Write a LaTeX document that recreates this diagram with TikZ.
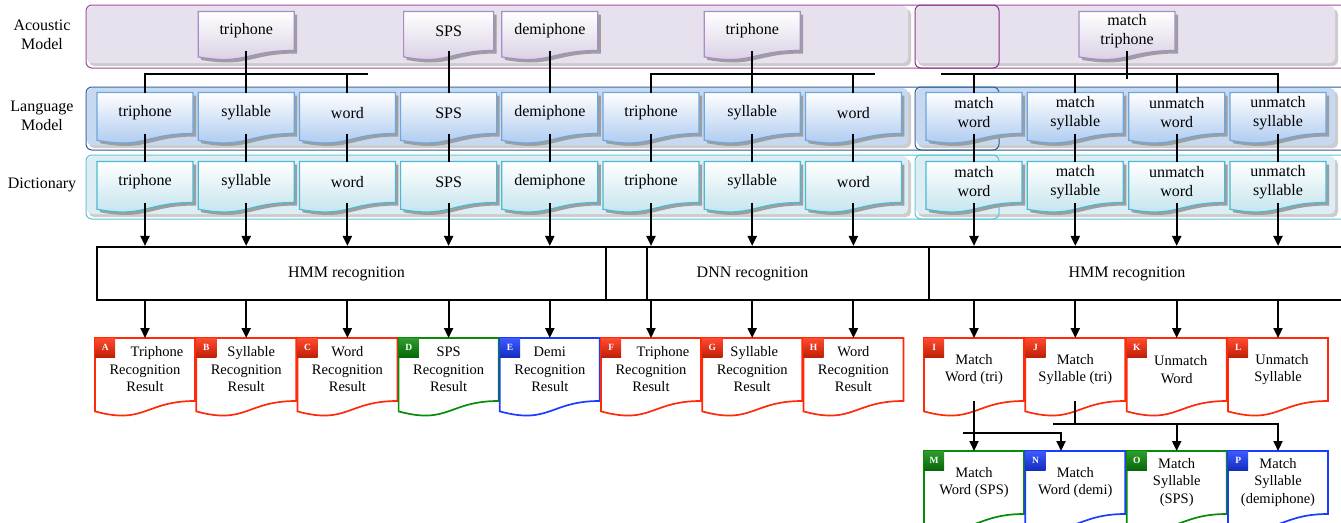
\documentclass[tikz,border=0pt]{standalone}
\usepackage{fontspec}
\setmainfont{Liberation Serif}
\usetikzlibrary{arrows.meta,calc}

\definecolor{acline}{HTML}{9E4A9E}
\definecolor{acdark}{HTML}{8A2E8A}
\definecolor{acfill}{HTML}{E6E1EC}
\definecolor{acdoc}{HTML}{A98BC9}
\definecolor{acshade}{HTML}{D6CCE2}
\definecolor{lmline}{HTML}{2E5E9C}
\definecolor{lmfill}{HTML}{C6D9F0}
\definecolor{lmdoc}{HTML}{6EA6DE}
\definecolor{lmshade}{HTML}{A6C6EE}
\definecolor{dcline}{HTML}{5CC2D8}
\definecolor{dcfill}{HTML}{DCEEF4}
\definecolor{dcdoc}{HTML}{4DB9D1}
\definecolor{dcshade}{HTML}{BFE2EC}
\definecolor{resred}{HTML}{FF2A0A}
\definecolor{resgreen}{HTML}{0A8A0A}
\definecolor{resblue}{HTML}{1A3CFF}

\pgfdeclarelayer{bands}
\pgfdeclarelayer{docs}
\pgfsetlayers{bands,docs,main}

\newcommand{\mfont}{\fontsize{16}{19}\selectfont}
\newcommand{\rfont}{\fontsize{14.5}{17.5}\selectfont}
% document outline below the text part of a node
\newcommand{\docpath}[1]{(#1.north west) -- (#1.north east) -- (#1.south east)
  .. controls (#1.south) and ($(#1.south)!-0.38!(#1.north)$) .. ($(#1.south west)!-0.165!(#1.north west)$) -- cycle}
\newcommand{\mdocbg}[3]{\begin{pgfonlayer}{docs}
  \fill[black!38, transform canvas={shift={(3pt,-3pt)}}] \docpath{#1};
  \shadedraw[top color=white, bottom color=#2, draw=#3, line width=1.2pt] \docpath{#1};
\end{pgfonlayer}}
\newcommand{\rdocbg}[2]{\begin{pgfonlayer}{docs}
  \filldraw[fill=white, draw=#2, line width=1.7pt] \docpath{#1};
\end{pgfonlayer}}

\begin{document}
\begin{tikzpicture}[x=1pt, y=-1pt, >={Triangle[length=10pt,width=9pt]},
            link/.style={line width=2.1pt},
            side/.style={font=\mfont, align=center},
            mdoc/.style={minimum width=96pt, minimum height=41pt, inner sep=0pt, outer sep=0pt, align=center, font=\mfont},
            rdoc/.style={minimum width=100pt, minimum height=63pt, inner sep=0pt, outer sep=0pt, align=center, font=\rfont},
            tag/.style={anchor=north west, minimum width=20pt, minimum height=19pt, inner sep=0pt,
                top color=#1!85!white, bottom color=#1!75!black, text=white, font=\fontsize{9.5}{9.5}\selectfont\bfseries},
            reco/.style={draw, line width=2.1pt, minimum height=53pt, inner sep=0pt, font=\mfont},
        ]
    \useasboundingbox (0,0) rectangle (1341,522);

    % the three model bands
    \begin{pgfonlayer}{bands}
    \foreach \t/\b/\ln/\fl/\dk in {5/68/acline/acfill/acdark, 87/150/lmline/lmfill/lmline, 155/219/dcline/dcfill/dcline} {
        \filldraw[draw=\ln, fill=white, line width=1pt, rounded corners=6pt] (86,\t) rectangle (1375,\b);
        \fill[black!20, rounded corners=5pt] (89,\t+4) rectangle (911,\b-2);
        \fill[\fl, rounded corners=5pt] (87,\t+1) rectangle (908,\b-5);
        \fill[black!20, rounded corners=5pt] (918,\t+4) rectangle (1338,\b-2);
        \fill[\fl, rounded corners=5pt] (916,\t+1) rectangle (1335,\b-5);
        \draw[\dk, line width=1pt, rounded corners=6pt] (915,\t) rectangle (999,\b);
    }
    \end{pgfonlayer}

    \node[side] (acm) at (42,35) {Acoustic\\Model};
    \node[side] (lnm) at (42,116) {Language\\Model};
    \node[side] (dct) at (42,185) {Dictionary};

    \node[mdoc, minimum height=39pt] (a1) at (246.2,31) {triphone};
    \node[mdoc, minimum height=39pt, minimum width=90pt] (a2) at (448.6,31) {SPS};
    \node[mdoc, minimum height=39pt] (a3) at (549.8,31) {demiphone};
    \node[mdoc, minimum height=39pt] (a4) at (752.2,31) {triphone};
    \node[mdoc, minimum height=39pt] (a5) at (1127,31) {match\\triphone};

    \node[mdoc] (l1) at (145,113) {triphone};
    \node[mdoc] (l2) at (246.2,113) {syllable};
    \node[mdoc] (l3) at (347.4,113) {word};
    \node[mdoc] (l4) at (448.6,113) {SPS};
    \node[mdoc] (l5) at (549.8,113) {demiphone};
    \node[mdoc] (l6) at (651,113) {triphone};
    \node[mdoc] (l7) at (752.2,113) {syllable};
    \node[mdoc] (l8) at (853.4,113) {word};
    \node[mdoc] (l9) at (974,113) {match\\word};
    \node[mdoc] (l10) at (1075.3,113) {match\\syllable};
    \node[mdoc] (l11) at (1176.7,113) {unmatch\\word};
    \node[mdoc] (l12) at (1278,113) {unmatch\\syllable};

    \node[mdoc] (d1) at (145,182) {triphone};
    \node[mdoc] (d2) at (246.2,182) {syllable};
    \node[mdoc] (d3) at (347.4,182) {word};
    \node[mdoc] (d4) at (448.6,182) {SPS};
    \node[mdoc] (d5) at (549.8,182) {demiphone};
    \node[mdoc] (d6) at (651,182) {triphone};
    \node[mdoc] (d7) at (752.2,182) {syllable};
    \node[mdoc] (d8) at (853.4,182) {word};
    \node[mdoc] (d9) at (974,182) {match\\word};
    \node[mdoc] (d10) at (1075.3,182) {match\\syllable};
    \node[mdoc] (d11) at (1176.7,182) {unmatch\\word};
    \node[mdoc] (d12) at (1278,182) {unmatch\\syllable};

    \foreach \n in {a1,a2,a3,a4,a5} {\mdocbg{\n}{acshade}{acdoc}}
    \foreach \i in {1,...,12} {\mdocbg{l\i}{lmshade}{lmdoc} \mdocbg{d\i}{dcshade}{dcdoc}}

    \node[reco, minimum width=509pt] (hmm1) at (351.5,273.5) {HMM recognition\hspace*{10pt}};
    \node[reco, minimum width=323pt] (dnn) at (767.5,273.5) {DNN recognition\hspace*{30pt}};
    \node[reco, minimum width=430pt] (hmm2) at (1144,273.5) {HMM recognition\hspace*{34pt}};
    \draw[link] ([xshift=42pt]dnn.north west) -- ([xshift=42pt]dnn.south west);

    \node[rdoc] (rA) at (145,369.5) {\hspace*{24pt}Triphone\\Recognition\\Result};
    \node[rdoc] (rB) at (246.2,369.5) {\hspace*{10pt}Syllable\\Recognition\\Result};
    \node[rdoc] (rC) at (347.4,369.5) {Word\\Recognition\\Result};
    \node[rdoc] (rD) at (448.6,369.5) {SPS\\Recognition\\Result};
    \node[rdoc] (rE) at (549.8,369.5) {Demi\\Recognition\\Result};
    \node[rdoc] (rF) at (651,369.5) {\hspace*{24pt}Triphone\\Recognition\\Result};
    \node[rdoc] (rG) at (752.2,369.5) {\hspace*{4pt}Syllable\\Recognition\\Result};
    \node[rdoc] (rH) at (853.4,369.5) {Word\\Recognition\\Result};
    \node[rdoc] (rI) at (974,369.5) {Match\\Word (tri)};
    \node[rdoc] (rJ) at (1075.3,369.5) {Match\\Syllable (tri)};
    \node[rdoc] (rK) at (1176.7,369.5) {\hspace*{8pt}Unmatch\\Word};
    \node[rdoc] (rL) at (1278,369.5) {\hspace*{8pt}Unmatch\\Syllable};
    \node[rdoc] (rM) at (974,482.5) {Match\\Word (SPS)};
    \node[rdoc] (rN) at (1075.3,482.5) {Match\\Word (demi)};
    \node[rdoc] (rO) at (1176.7,482.5) {Match\\Syllable\\(SPS)};
    \node[rdoc] (rP) at (1278,482.5) {Match\\Syllable\\(demiphone)};

    \foreach \l/\c in {A/resred, B/resred, C/resred, D/resgreen, E/resblue, F/resred, G/resred, H/resred,
                       I/resred, J/resred, K/resred, L/resred, M/resgreen, N/resblue, O/resgreen, P/resblue} {
        \rdocbg{r\l}{\c}
        \node[tag=\c] (t\l) at (r\l.north west) {\l};
    }

    % acoustic model to language model
    \coordinate (b1) at (368,74);
    \coordinate (b2) at (875,74);
    \coordinate (b3) at (941,74);
    \coordinate (b4) at (1127,79);
    \draw[link] (l1.north) |- (b1);
    \draw[link] (a1.south) -- (l2.north);
    \draw[link] (l3.north) -- (l3.north |- b1);
    \draw[link] (a2.south) -- (l4.north);
    \draw[link] (a3.south) -- (l5.north);
    \draw[link] (l6.north) |- (b2);
    \draw[link] (a4.south) -- (l7.north);
    \draw[link] (l8.north) -- (l8.north |- b2);
    \draw[link] (b3) -| (l12.north);
    \draw[link] (a5.south) -- (b4);
    \draw[link] (l9.north) -- (l9.north |- b3);
    \draw[link] (l10.north) -- (l10.north |- b3);
    \draw[link] (l11.north) -- (l11.north |- b3);

    % language model to dictionary to recognition
    \foreach \i in {1,...,12} \draw[link] (l\i.south) -- (d\i.north);
    \foreach \i in {1,...,5} \draw[link,->] (d\i.south) -- (d\i.south |- hmm1.north);
    \foreach \i in {6,7,8} \draw[link,->] (d\i.south) -- (d\i.south |- dnn.north);
    \foreach \i in {9,...,12} \draw[link,->] (d\i.south) -- (d\i.south |- hmm2.north);

    \foreach \r in {A,B,C,D,E} \draw[link,->] (r\r.north |- hmm1.south) -- (r\r.north);
    \foreach \r in {F,G,H} \draw[link,->] (r\r.north |- dnn.south) -- (r\r.north);
    \foreach \r in {I,J,K,L} \draw[link,->] (r\r.north |- hmm2.south) -- (r\r.north);

    % matched results
    \coordinate (b5) at (963,433);
    \coordinate (b6) at (1061,433);
    \coordinate (b7) at (1053,424);
    \draw[link,->] (rI.south) -- (rM.north);
    \draw[link,->] (b5) -- (b6) -- (b6 |- rN.north);
    \draw[link] (rJ.south) -- (rJ.south |- b7);
    \draw[link,->] (b7) -| (rP.north);
    \draw[link,->] (rO.north |- b7) -- (rO.north);
\end{tikzpicture}
\end{document}
